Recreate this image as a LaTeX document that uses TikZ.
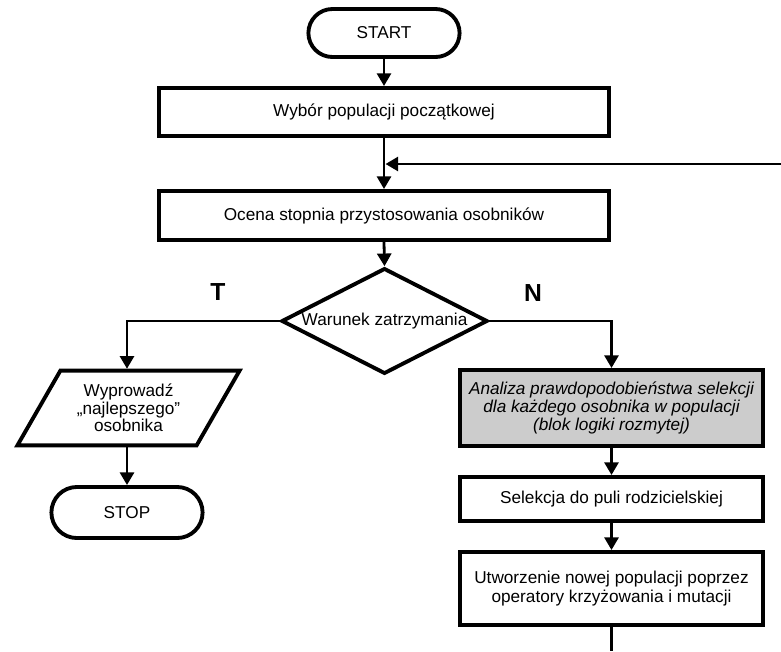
\documentclass[tikz,border=0pt]{standalone}
\usepackage{fontspec}
\setmainfont{Liberation Sans}
\usetikzlibrary{shapes.geometric,shapes.misc,arrows.meta}
\definecolor{boxgray}{RGB}{204,204,204}
\begin{document}
\begin{tikzpicture}[x=0.75pt,y=-0.75pt,
  every node/.style={font=\fontsize{12.9}{13.7}\selectfont, inner sep=0pt, align=center},
  blk/.style={draw, line width=2.9pt, rectangle},
  term/.style={draw, line width=2.9pt, rounded rectangle, minimum width=113.4pt, minimum height=36pt},
  conn/.style={line width=2.1pt, -{Triangle[length=9.5pt,width=10.5pt]}},
  plain/.style={line width=2.1pt},
  lbl/.style={font=\fontsize{18.5}{20}\selectfont\bfseries}
]
\useasboundingbox (0,0) rectangle (781,651);

\node[term] (start) at (384,33) {START};
\node[blk, minimum width=337.6pt, minimum height=36.1pt] (b1) at (384,112) {Wybór populacji początkowej};
\node[blk, minimum width=337.6pt, minimum height=36.8pt] (b2) at (384,215.5) {Ocena stopnia przystosowania osobników};
\node[draw, line width=2.9pt, diamond, minimum width=154.5pt, minimum height=79.3pt] (dec) at (384.5,321) {\makebox[0pt][c]{Warunek zatrzymania}};
\node[minimum width=134pt, minimum height=55.6pt, font=\fontsize{12.9}{13.2}\selectfont] (out) at (128.5,408) {Wyprowadź\\„najlepszego”\\osobnika};
\draw[line width=2.9pt] ([xshift=16.1pt]out.north west) -- ([xshift=16.1pt]out.north east)
  -- ([xshift=-16.1pt]out.south east) -- ([xshift=-16.1pt]out.south west) -- cycle;
\node[term, minimum height=38.3pt] (stop) at (127,512.5) {STOP};

\node[blk, fill=boxgray, minimum width=227.3pt, minimum height=57.1pt] (gray) at (611.5,408)
  {\itshape Analiza prawdopodobieństwa selekcji\\\itshape dla każdego osobnika w populacji\\\itshape (blok logiki rozmytej)};
\node[blk, minimum width=227.3pt, minimum height=33.1pt] (sel) at (611.5,499) {Selekcja do puli rodzicielskiej};
\node[blk, minimum width=227.3pt, minimum height=54.8pt] (utw) at (611.5,588.5) {Utworzenie nowej populacji poprzez\\operatory krzyżowania i mutacji};

\node[lbl] (T) at (218,292) {T};
\node[lbl] (N) at (533,293) {N};

\coordinate (fbR) at (781,164);
\coordinate (fbL) at (385.5,164);
\coordinate (bot) at (611.5,651);

\draw[conn] (start.south) -- (b1.north);
\draw[conn] (b1.south) -- (b2.north);
\draw[conn] (fbR) -- (fbL);
\draw[conn] (b2.south) -- (dec.north);
\draw[conn] (dec.west) -| ([yshift=1.45pt]out.north -| stop.north);
\draw[conn] (dec.east) -| (gray.north);
\draw[conn] ([yshift=-1.45pt]out.south -| stop.north) -- (stop.north);
\draw[conn] (gray.south) -- (sel.north);
\draw[conn] (sel.south) -- (utw.north);
\draw[plain] (utw.south) -- (bot);
\end{tikzpicture}
\end{document}
